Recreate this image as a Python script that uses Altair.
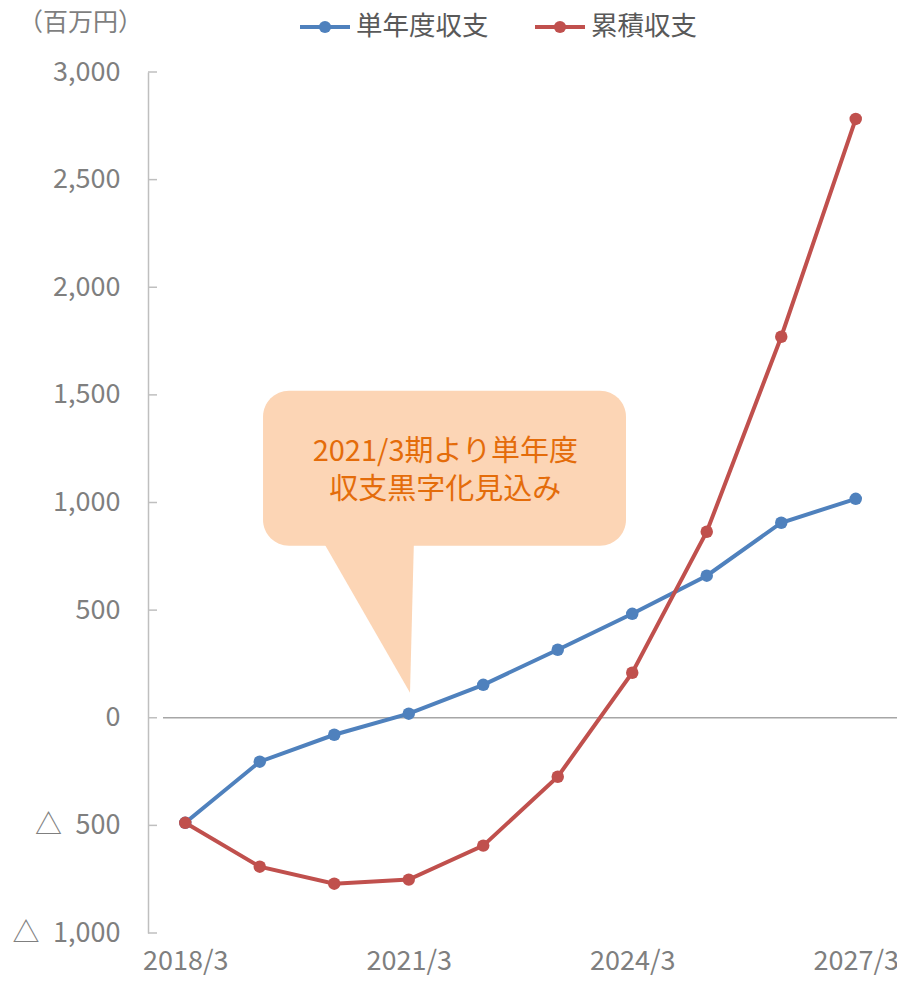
import altair as alt
import pandas as pd

# ---- data ----
periods = ["2018/3", "2019/3", "2020/3", "2021/3", "2022/3",
           "2023/3", "2024/3", "2025/3", "2026/3", "2027/3"]
annual = [-488, -204, -79, 19, 153, 316, 483, 660, 906, 1017]          # 単年度収支
cumulative = [-488, -692, -771, -752, -594, -274, 209, 864, 1770, 2782]  # 累積収支
series_names = ["単年度収支", "累積収支"]
series_colors = ["#4F81BD", "#C0504D"]
y_ticks = [-1000, -500, 0, 500, 1000, 1500, 2000, 2500, 3000]
x_label_idx = [0, 3, 6, 9]
unit_label = "（百万円）"
callout_lines = ["2021/3期より単年度", "収支黒字化見込み"]

FONT = "Noto Sans CJK JP"
GRAY = "#7F7F7F"
PEACH = "#FCD5B5"
ORANGE = "#E46C0A"

rows = []
for name, vals in zip(series_names, [annual, cumulative]):
    for i, (p, v) in enumerate(zip(periods, vals)):
        rows.append({"idx": i, "period": p, "series": name, "value": v})
df = pd.DataFrame(rows)

label_array = "[" + ",".join("'" + p + "'" for p in periods) + "]"

x_scale = alt.Scale(domain=[-0.5, len(periods) - 0.5], nice=False, zero=False)
y_scale = alt.Scale(domain=[-1000, 3000], nice=False, zero=False)

x_enc = alt.X("idx:Q", scale=x_scale,
              axis=alt.Axis(values=x_label_idx, labelExpr=label_array + "[datum.value]",
                            domain=False, ticks=False, grid=False, title=None,
                            labelFont=FONT, labelFontSize=27, labelColor=GRAY,
                            labelPadding=15))
y_enc = alt.Y("value:Q", scale=y_scale,
              axis=alt.Axis(values=y_ticks,
                            labelExpr="datum.value < 0 ? '△\u2002' + format(-datum.value, ',') : format(datum.value, ',')",
                            grid=False, ticks=False, title=None,
                            domainColor="#BFBFBF", domainWidth=1.5,
                            labelFont=FONT, labelFontSize=27, labelColor=GRAY,
                            labelPadding=28))
color_enc = alt.Color("series:N", scale=alt.Scale(domain=series_names, range=series_colors),
                      legend=None)

# ---- callout (anchored in data coordinates) ----
callout_box = pd.DataFrame({"x1": [1.044], "x2": [5.916], "y1": [1519], "y2": [799]})
callout_tail = pd.DataFrame({"ty": [830, 116], "xa": [1.83, 3.017], "xb": [3.07, 3.017]})
callout_text = pd.DataFrame({"tx": [3.49, 3.49], "ty": [1233, 1057], "t": callout_lines})

box = alt.Chart(callout_box).mark_rect(color=PEACH, cornerRadius=26).encode(
    x=alt.X("x1:Q", scale=x_scale), x2="x2:Q",
    y=alt.Y("y1:Q", scale=y_scale), y2="y2:Q")
tail = alt.Chart(callout_tail).mark_area(orient="horizontal", color=PEACH, opacity=1).encode(
    y=alt.Y("ty:Q", scale=y_scale), x=alt.X("xa:Q", scale=x_scale), x2="xb:Q")
ctext = alt.Chart(callout_text).mark_text(font=FONT, fontSize=29, color=ORANGE).encode(
    x=alt.X("tx:Q", scale=x_scale), y=alt.Y("ty:Q", scale=y_scale), text="t:N")

# ---- axes decorations ----
tick_df = pd.DataFrame({"value": y_ticks})
ticks = alt.Chart(tick_df).mark_rule(color="#BFBFBF", strokeWidth=1.5).encode(
    y=alt.Y("value:Q", scale=y_scale), x=alt.value(0), x2=alt.value(9))
zero_df = pd.DataFrame({"value": [0]})
zero_line = alt.Chart(zero_df).mark_rule(color="#A6A6A6", strokeWidth=1.5).encode(
    y=alt.Y("value:Q", scale=y_scale), x=alt.value(15), x2=alt.value(757))

# ---- series ----
base = alt.Chart(df)
lines = base.mark_line(strokeWidth=4).encode(x=x_enc, y=y_enc, color=color_enc,
                                             detail="series:N")
points = base.mark_circle(size=155, opacity=1).encode(x=x_enc, y=y_enc, color=color_enc)

# ---- legend & unit label ----
legend_layers = []
legend_x = [152, 387]
for name, col, lx in zip(series_names, series_colors, legend_x):
    d = pd.DataFrame({"name": [name]})
    legend_layers.append(alt.Chart(d).mark_rule(color=col, strokeWidth=4).encode(
        x=alt.value(lx), x2=alt.value(lx + 50), y=alt.value(-45)))
    legend_layers.append(alt.Chart(d).mark_circle(color=col, size=150, opacity=1).encode(
        x=alt.value(lx + 25), y=alt.value(-45)))
    legend_layers.append(alt.Chart(d).mark_text(font=FONT, fontSize=26.5, color="#595959",
                                                align="left", baseline="middle").encode(
        x=alt.value(lx + 56), y=alt.value(-45), text="name:N"))

unit = alt.Chart(pd.DataFrame({"t": [unit_label]})).mark_text(
    font=FONT, fontSize=25, color=GRAY, align="left", baseline="middle").encode(
    x=alt.value(-130), y=alt.value(-49), text="t:N")

chart = alt.layer(box, tail, ctext, zero_line, ticks, lines, points, unit, *legend_layers).properties(
    width=745, height=861,
    autosize=alt.AutoSizeParams(type="none"),
    padding={"left": 140, "top": 64, "right": 4, "bottom": 42},
    background="white",
).configure_view(stroke=None)

chart.save("out.html", embed_options={"renderer": "svg", "actions": False})
